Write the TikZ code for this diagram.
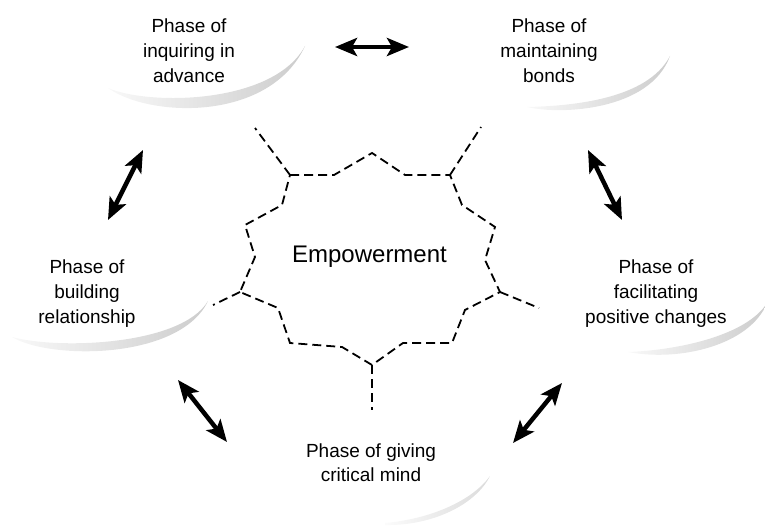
\documentclass[tikz,border=0pt]{standalone}
\usepackage{fontspec}
\setmainfont{Liberation Sans}
\usetikzlibrary{arrows.meta}
\begin{document}
\begin{tikzpicture}[x=1pt,y=-1pt,
  phase/.style={align=center, anchor=north, inner sep=0pt, font=\fontsize{19}{25}\selectfont},
  dbl/.style={line width=4.5pt, {Stealth[length=22pt,width=18pt,inset=5pt]}-{Stealth[length=22pt,width=18pt,inset=5pt]}},
  starline/.style={dash pattern=on 9pt off 5pt, line width=1.8pt},
  shadowarc/.style={draw=none, left color=gray!5, right color=gray!40},
  faintarc/.style={draw=none, left color=gray!3, right color=gray!28}]
\useasboundingbox (0,0) rectangle (765,529);

% shadow crescents
\shade[shadowarc] (108,88) .. controls (150,118) and (270,122) .. (305,46) .. controls (274,104) and (150,106) .. (108,88) -- cycle;
\shade[shadowarc] (527,107) .. controls (560,115) and (650,111) .. (670,56) .. controls (647,100) and (570,106) .. (527,107) -- cycle;
\shade[shadowarc] (12,337) .. controls (50,360) and (180,360) .. (208,301) .. controls (182,345) and (60,350) .. (12,337) -- cycle;
\shade[shadowarc] (628,352) .. controls (680,362) and (750,345) .. (767,303) .. controls (747,335) and (680,350) .. (628,352) -- cycle;
\shade[faintarc] (385,525) .. controls (430,526) and (475,506) .. (490,476) .. controls (472,501) and (430,519) .. (385,523) -- cycle;

% labels
\node[phase] (inq) at (189,18.2) {Phase of\\inquiring in\\advance};
\node[phase] (mnt) at (549,18.2) {Phase of\\maintaining\\bonds};
\node[phase] (bld) at (87,259.2) {Phase of\\building\\relationship};
\node[phase] (fac) at (656,259.2) {Phase of\\facilitating\\positive changes};
\node[phase, font=\fontsize{19}{24}\selectfont] (giv) at (371,443.2) {Phase of giving\\critical mind};
\node[anchor=base, inner sep=0pt, font=\fontsize{24}{28}\selectfont] (emp) at (369.5,262) {Empowerment};

% star vertices
\coordinate (s1) at (290,175);
\coordinate (s5) at (450,175);
\coordinate (s9) at (500,292);
\coordinate (s11) at (452,343);
\coordinate (s13) at (372,365);
\coordinate (s15) at (290,343);
\coordinate (s17) at (240,292);
\draw[starline] (s1) -- (334,175) -- (372,153) -- (405,175) -- (s5) -- (462,205) -- (495,227)
  -- (485,260) -- (s9) -- (465,310) -- (s11) -- (403,343) -- (s13) -- (342,347) -- (s15)
  -- (278,308) -- (s17) -- (255,257) -- (245,225) -- (282,205) -- cycle;

% spokes
\coordinate (e1) at (255,128);
\coordinate (e5) at (481,127);
\coordinate (e9) at (539,308);
\coordinate (e13) at (372,410);
\coordinate (e17) at (213,305);
\draw[starline] (s1) -- (e1);
\draw[starline] (s5) -- (e5);
\draw[starline] (s9) -- (e9);
\draw[starline] (s13) -- (e13);
\draw[starline] (s17) -- (e17);

% arrows
\coordinate (a1) at (335,47);  \coordinate (b1) at (409,47);
\coordinate (a2) at (143,150); \coordinate (b2) at (108,220);
\coordinate (a3) at (588,150); \coordinate (b3) at (622,220);
\coordinate (a4) at (178,380); \coordinate (b4) at (227,442);
\coordinate (a5) at (562,383); \coordinate (b5) at (513,443);
\draw[dbl] (a1) -- (b1);
\draw[dbl] (a2) -- (b2);
\draw[dbl] (a3) -- (b3);
\draw[dbl] (a4) -- (b4);
\draw[dbl] (a5) -- (b5);
\end{tikzpicture}
\end{document}
